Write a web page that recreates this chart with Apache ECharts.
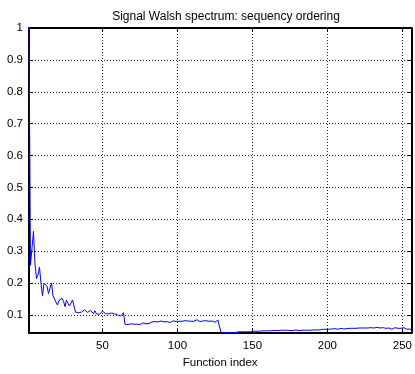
<!DOCTYPE html>
<html>
<head>
<meta charset="utf-8">
<script src="https://cdn.jsdelivr.net/npm/echarts@6/dist/echarts.min.js"></script>
<style>
  html, body { margin: 0; padding: 0; background: #fff; }
  #main { width: 415px; height: 374px; }
</style>
</head>
<body>
<div id="main"></div>
<script>
// spectrum values, function index 1..256
var spectrum = [
  1.0, 0.256, 0.31, 0.362, 0.26, 0.214, 0.225, 0.25,
  0.2, 0.16, 0.2, 0.195, 0.19, 0.167, 0.163, 0.2,
  0.16, 0.15, 0.14, 0.131, 0.145, 0.14, 0.152, 0.143,
  0.126, 0.146, 0.136, 0.128, 0.134, 0.147, 0.153, 0.109,
  0.108, 0.107, 0.108, 0.109, 0.113, 0.116, 0.112, 0.108,
  0.106, 0.114, 0.109, 0.104, 0.113, 0.103, 0.105, 0.102,
  0.108, 0.112, 0.106, 0.104, 0.109, 0.103, 0.101, 0.106,
  0.109, 0.103, 0.099, 0.101, 0.097, 0.096, 0.099, 0.107,
  0.071, 0.071, 0.070, 0.071, 0.072, 0.071, 0.071, 0.070,
  0.071, 0.072, 0.070, 0.073, 0.075, 0.074, 0.072, 0.074,
  0.073, 0.075, 0.078, 0.077, 0.079, 0.080, 0.078, 0.079,
  0.081, 0.079, 0.078, 0.077, 0.079, 0.078, 0.076, 0.078,
  0.081, 0.079, 0.080, 0.082, 0.080, 0.081, 0.080, 0.081,
  0.082, 0.080, 0.081, 0.079, 0.080, 0.082, 0.080, 0.079,
  0.085, 0.087, 0.079, 0.083, 0.081, 0.084, 0.082, 0.083,
  0.080, 0.082, 0.081, 0.083, 0.077, 0.075, 0.084, 0.087,
  0.046, 0.044, 0.043, 0.044, 0.045, 0.044, 0.045, 0.046,
  0.045, 0.046, 0.045, 0.046, 0.047, 0.046, 0.047, 0.046,
  0.047, 0.048, 0.047, 0.048, 0.047, 0.048, 0.049, 0.048,
  0.049, 0.050, 0.049, 0.048, 0.050, 0.049, 0.050, 0.051,
  0.050, 0.049, 0.051, 0.050, 0.051, 0.052, 0.051, 0.050,
  0.052, 0.054, 0.052, 0.051, 0.052, 0.053, 0.051, 0.052,
  0.051, 0.052, 0.053, 0.052, 0.051, 0.052, 0.052, 0.053,
  0.052, 0.051, 0.052, 0.053, 0.052, 0.052, 0.053, 0.052,
  0.053, 0.054, 0.053, 0.054, 0.055, 0.054, 0.055, 0.056,
  0.055, 0.054, 0.056, 0.055, 0.057, 0.056, 0.055, 0.057,
  0.058, 0.057, 0.056, 0.058, 0.057, 0.059, 0.058, 0.057,
  0.058, 0.059, 0.058, 0.057, 0.059, 0.058, 0.059, 0.058,
  0.059, 0.060, 0.059, 0.058, 0.060, 0.061, 0.059, 0.060,
  0.061, 0.060, 0.059, 0.061, 0.060, 0.059, 0.058, 0.060,
  0.059, 0.057, 0.055, 0.058, 0.060, 0.059, 0.058, 0.060,
  0.058, 0.057, 0.060, 0.061, 0.055, 0.053, 0.056, 0.052
];
var xTicks = [50, 100, 150, 200, 250];
var yTicks = [0.1, 0.2, 0.3, 0.4, 0.5, 0.6, 0.7, 0.8, 0.9, 1];
var xMin = 1, xMax = 256;
var yMin = 0.043, yMax = 1;

var points = spectrum.map(function (v, i) { return [i + 1, v]; });

var font = { fontFamily: 'Liberation Sans, Arial, sans-serif', fontSize: 11.5, color: '#000' };
var axisLine = { show: true, onZero: false, lineStyle: { color: '#000', width: 2 } };
var grid = { show: true, lineStyle: { color: '#000', type: [1, 2], width: 1, opacity: 0.85 } };

var chart = echarts.init(document.getElementById('main'));
chart.setOption({
  animation: false,
  backgroundColor: '#fff',
  title: {
    text: 'Signal Walsh spectrum: sequency ordering',
    left: 221, top: 6, textAlign: 'center',
    textStyle: { fontFamily: font.fontFamily, fontSize: 12, fontWeight: 'normal', color: '#000' }
  },
  grid: { left: 29, right: 2, top: 28, bottom: 39 },
  xAxis: [{
    type: 'value', min: xMin, max: xMax,
    name: 'Function index', nameLocation: 'middle', nameGap: 22,
    nameTextStyle: font,
    axisLine: axisLine,
    axisTick: { inside: true, length: 4, customValues: xTicks, lineStyle: { color: '#000' } },
    axisLabel: Object.assign({ customValues: xTicks, margin: 7 }, font),
    splitLine: grid
  }, {
    type: 'value', min: xMin, max: xMax, position: 'top',
    axisLine: axisLine,
    axisTick: { inside: true, length: 4, customValues: xTicks, lineStyle: { color: '#000' } },
    axisLabel: { show: false },
    splitLine: { show: false }
  }],
  yAxis: [{
    type: 'value', min: yMin, max: yMax,
    axisLine: axisLine,
    axisTick: { inside: true, length: 4, customValues: yTicks, lineStyle: { color: '#000' } },
    axisLabel: Object.assign({ customValues: yTicks, margin: 6 }, font),
    splitLine: grid
  }, {
    type: 'value', min: yMin, max: yMax, position: 'right',
    axisLine: axisLine,
    axisTick: { inside: true, length: 4, customValues: yTicks, lineStyle: { color: '#000' } },
    axisLabel: { show: false },
    splitLine: { show: false }
  }],
  series: [{
    type: 'line',
    data: points,
    showSymbol: false,
    clip: true,
    lineStyle: { color: '#0000ff', width: 1 },
    itemStyle: { color: '#0000ff' }
  }]
});
</script>
</body>
</html>
